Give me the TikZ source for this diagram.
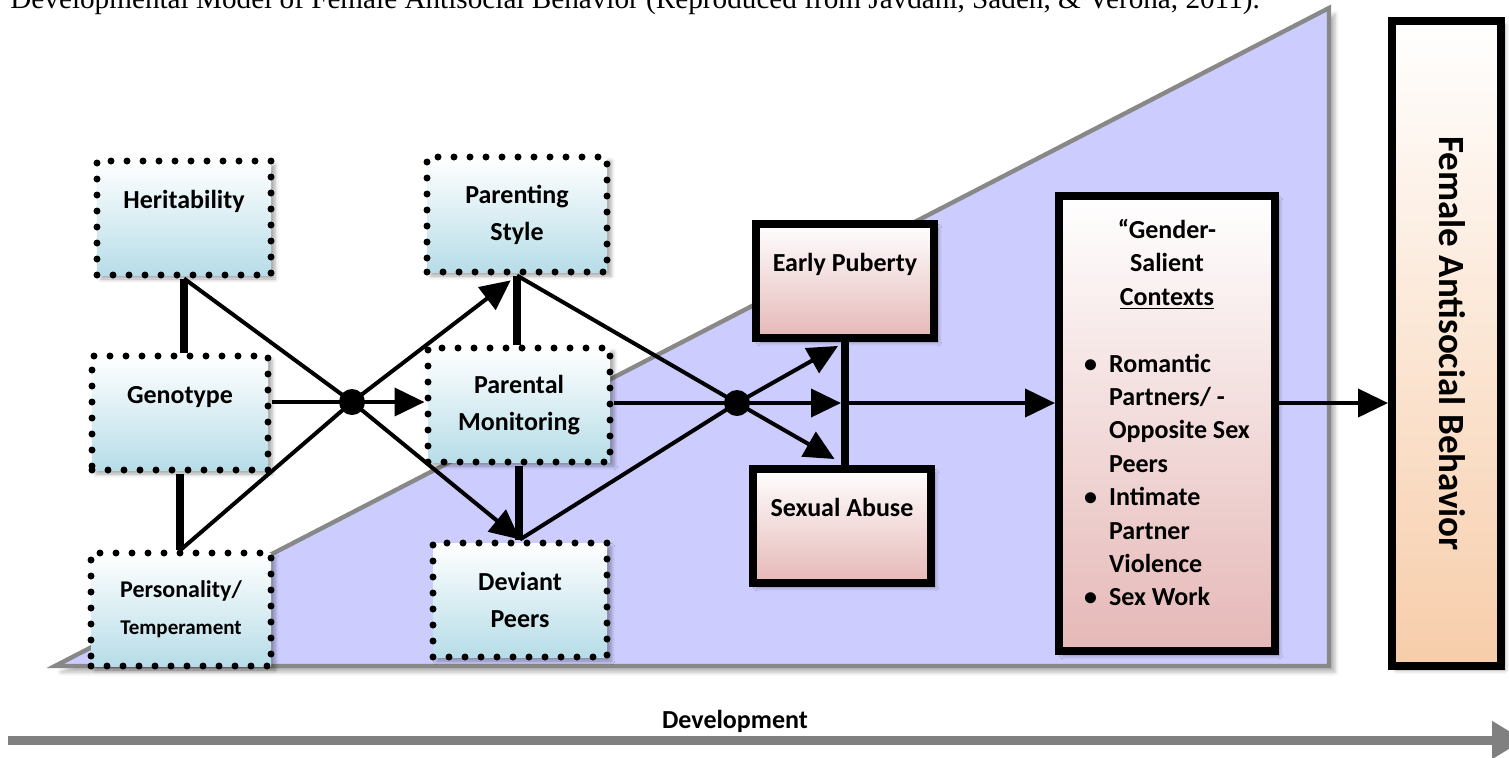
\documentclass[tikz,border=0pt]{standalone}
\usepackage{fontspec}
\setmainfont{Carlito}
\newfontfamily\capfont{Liberation Serif}
\usepackage{tikz}
\usetikzlibrary{calc,positioning,arrows.meta,shadows.blur}
\definecolor{lavender}{RGB}{204,204,255}
\definecolor{edgegray}{RGB}{136,136,136}
\definecolor{iceblue}{RGB}{183,221,232}
\definecolor{rosepink}{RGB}{229,184,183}
\definecolor{peach}{RGB}{247,205,170}
\begin{document}
\begin{tikzpicture}[x=0.5pt,y=-0.5pt,
    dbox/.style={draw,line width=3.5pt,dash pattern=on 0pt off 8pt,line cap=round,
      top color=white,bottom color=iceblue,minimum width=88pt,minimum height=57pt,
      align=center,inner sep=2pt,font=\fontsize{13}{18.5}\selectfont\bfseries,
      blur shadow={shadow xshift=2pt,shadow yshift=-2pt,shadow opacity=35}},
    sbox/.style={draw,line width=4pt,top color=white,bottom color=rosepink,
      minimum width=89pt,minimum height=57pt,align=center,inner sep=2pt,
      font=\fontsize{13}{18.5}\selectfont\bfseries,
      blur shadow={shadow xshift=2pt,shadow yshift=-2pt,shadow opacity=35}},
    hub/.style={circle,fill,minimum size=13pt,inner sep=0pt},
    thk/.style={line width=3.8pt},
    ln/.style={line width=2pt},
    arr/.style={line width=2pt,-{Triangle[length=15pt,width=14pt,fill=black]}}]
 \useasboundingbox (0,0) rectangle (1509,757);
 \node[anchor=base west,inner sep=0pt,font=\capfont\fontsize{14.6}{17}\selectfont] (CAP) at (10,8)
  {Developmental Model of Female Antisocial Behavior (Reproduced from Javdani, Sadeh, \& Verona, 2011).};
 \filldraw[fill=lavender,draw=edgegray,line width=2.2pt,
   blur shadow={shadow xshift=3pt,shadow yshift=-3pt,shadow opacity=30}]
  (55,666) coordinate (RL) -- (1329,8) coordinate (RT) -- (1329,666) coordinate (RR) -- cycle;
 \node[font=\fontsize{13}{15}\selectfont\bfseries] (DLB) at (735,721) {Development};
 \draw[line width=4.5pt,draw=black!50,-{Triangle[length=16pt,width=18pt]}]
  (8,740) coordinate (DA) -- (1524,740) coordinate (DB);

 \node[dbox,minimum width=87pt] (HER) at (184,218) {Heritability\\~};
 \node[dbox] (GEN) at (180,413) {Genotype\\~};
 \node[dbox,minimum width=90pt,minimum height=56.5pt] (PER) at (181,609.5)
  {\fontsize{12}{16}\selectfont Personality/\\\fontsize{10.5}{16}\selectfont Temperament};
 \node[dbox,minimum width=90pt,minimum height=57.5pt] (PST) at (517,214.5) {Parenting\\Style};
 \node[dbox,minimum width=91pt] (PMO) at (519,405) {Parental\\Monitoring};
 \node[dbox,minimum width=87pt] (DEV) at (520,600) {Deviant\\Peers};
 \node[sbox] (EPU) at (845,281) {Early Puberty\\~};
 \node[sbox] (SAB) at (842,526) {Sexual Abuse\\~};
 \node[sbox,minimum width=108pt,minimum height=227.5pt] (GSC) at (1167,423.5)
  {\fontsize{13}{16.7}\selectfont
   \begin{tabular}{@{}c@{\hspace{6pt}}l@{}}
    \multicolumn{2}{c}{“Gender-}\\
    \multicolumn{2}{c}{Salient}\\
    \multicolumn{2}{c}{\underline{Contexts}}\\[16.7pt]
    \textbullet & Romantic\\
     & Partners/ -\\
     & Opposite Sex\\
     & Peers\\
    \textbullet & Intimate\\
     & Partner\\
     & Violence\\
    \textbullet & Sex Work\\[8pt]
   \end{tabular}};
 \node[sbox,bottom color=peach,minimum width=54.5pt,minimum height=322.5pt,
   font=\fontsize{18.5}{22}\selectfont\bfseries] (FAB) at (1446.5,343.5)
  {\hspace*{6pt}\rotatebox{-90}{Female Antisocial Behavior}};

 \node[hub] (H1) at (352,402) {};
 \node[hub] (H2) at (737,403) {};

 \draw[thk] (HER.south) -- (HER.south |- GEN.north);
 \draw[thk] (GEN.south) -- (GEN.south |- PER.north);
 \draw[ln] (HER.south) -- (H1.center);
 \draw[ln] (PER.north) -- (H1.center);
 \draw[ln] (GEN.east |- H1) -- (H1.center);
 \draw[arr] (H1.center) -- (H1 -| PMO.west);
 \draw[arr,shorten >=4pt] (H1.center) -- (PST.south);
 \draw[arr] (H1.center) -- (DEV.north);

 \draw[thk] (PST.south) -- (PST.south |- PMO.north);
 \draw[thk] (PMO.south) -- (PMO.south |- DEV.north);
 \draw[ln] (PST.south) -- (H2.center);
 \draw[ln] (DEV.north) -- (H2.center);
 \draw[ln] (PMO.east |- H2) -- (H2.center);

 \coordinate (BT) at (EPU.south);
 \coordinate (BB) at (EPU.south |- SAB.north);
 \coordinate (BM) at (EPU.south |- H2);
 \draw[thk] (BT) -- (BB);
 \draw[arr,shorten >=4pt] (H2.center) -- (BT);
 \draw[arr,shorten >=2pt] (H2.center) -- (BM);
 \draw[arr,shorten >=6pt] (H2.center) -- (BB);
 \draw[arr] (BM) -- (BM -| GSC.west);
 \draw[arr] (GSC.east |- BM) -- (FAB.west |- BM);
\end{tikzpicture}
\end{document}
